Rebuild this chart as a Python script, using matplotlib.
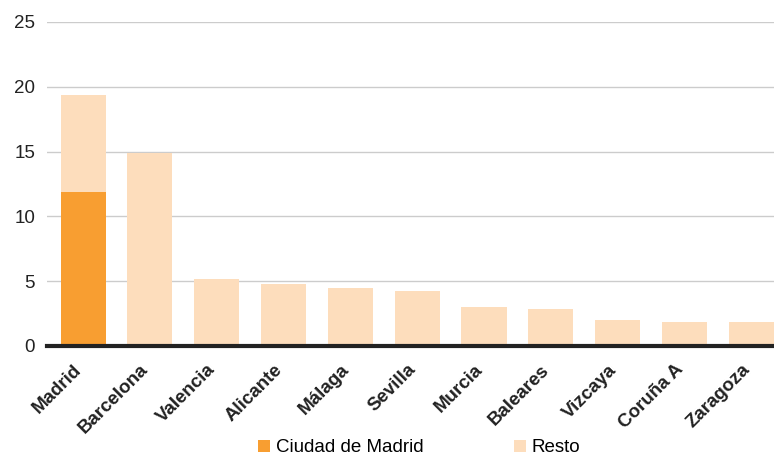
import matplotlib.pyplot as plt
import matplotlib.transforms as mtransforms
import numpy as np

plt.rcParams['font.family'] = ['Liberation Sans', 'DejaVu Sans']

# ── Data ──────────────────────────────────────────────────────────────────────
provincias = ["Madrid", "Barcelona", "Valencia", "Alicante", "Málaga", "Sevilla",
              "Murcia", "Baleares", "Vizcaya", "Coruña A", "Zaragoza"]
ciudad = [11.9, 0, 0, 0, 0, 0, 0, 0, 0, 0, 0]
resto = [7.5, 14.9, 5.2, 4.8, 4.5, 4.25, 3.0, 2.85, 2.0, 1.85, 1.85]
yticks = [0, 5, 10, 15, 20, 25]

C_CIUDAD = "#F89E31"
C_RESTO = "#FDDDBC"

# ── Plot ──────────────────────────────────────────────────────────────────────
fig = plt.figure(figsize=(7.74, 4.59), dpi=100, facecolor="white")
ax = fig.add_axes([47 / 774, 1 - 346 / 459, 1 - 47 / 774, (346 - 22) / 459])

x = np.arange(len(provincias))
ax.bar(x, ciudad, width=0.675, color=C_CIUDAD, label="Ciudad de Madrid", zorder=3)
ax.bar(x, resto, width=0.675, bottom=ciudad, color=C_RESTO, label="Resto", zorder=3)

ax.set_xlim(-0.54, 10.34)
ax.set_ylim(0, 25)
ax.set_yticks(yticks)
ax.set_yticklabels([str(t) for t in yticks], fontsize=13.5, color="#222222")
ax.tick_params(axis="y", length=0, pad=8.5)
ax.tick_params(axis="x", length=0, pad=11)

ax.set_xticks(x)
ax.set_xticklabels(provincias, rotation=45, ha="right", rotation_mode="anchor",
                   fontsize=13.5, fontweight="bold", color="#222222")
shift = mtransforms.ScaledTranslation(-10 / 100, 0, fig.dpi_scale_trans)
for lab in ax.get_xticklabels():
    lab.set_transform(lab.get_transform() + shift)

ax.grid(axis="y", color="#cccccc", linewidth=1.0, zorder=0)
ax.set_axisbelow(True)
for s in ["top", "right", "left"]:
    ax.spines[s].set_visible(False)
ax.spines["bottom"].set_color("#222222")
ax.spines["bottom"].set_linewidth(3)
ax.spines["bottom"].set_zorder(4)

fig.legend(loc="center", bbox_to_anchor=(419 / 774, 1 - 448 / 459), ncol=2,
           frameon=False, fontsize=13.5, handlelength=0.65, handleheight=0.65,
           handletextpad=0.3, columnspacing=4.8, borderpad=0)

plt.savefig("out.png", dpi=100, facecolor="white")
